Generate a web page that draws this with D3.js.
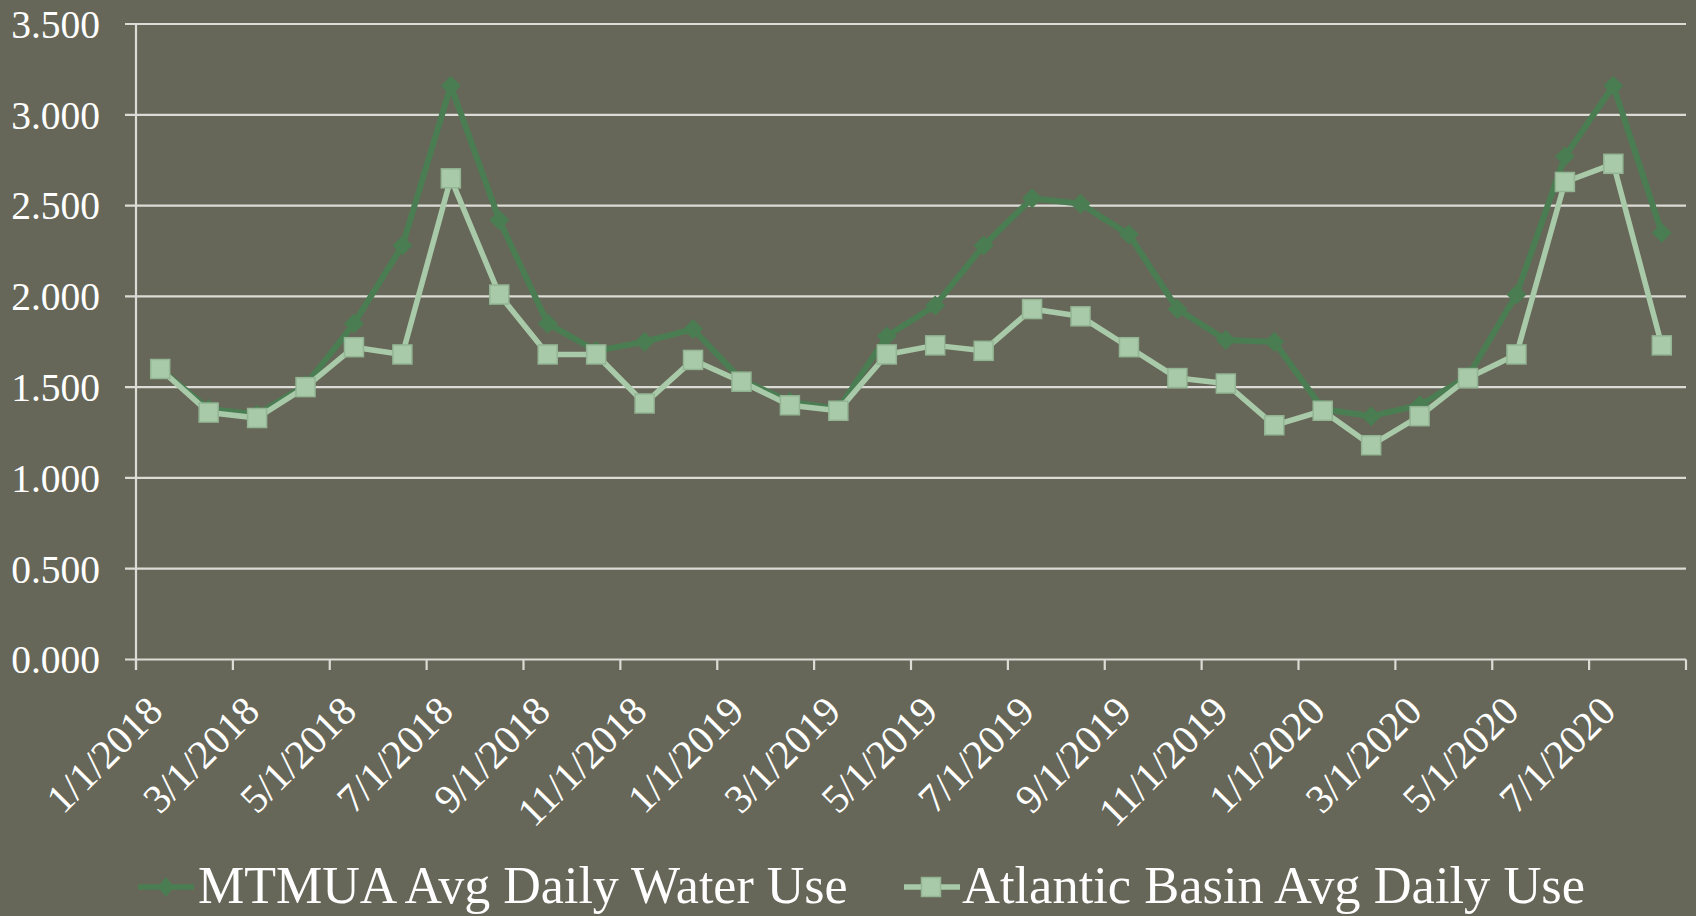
<!DOCTYPE html>
<html>
<head>
<meta charset="utf-8">
<script src="https://cdn.jsdelivr.net/npm/d3@7"></script>
<style>
  html, body { margin: 0; padding: 0; background: #666758; }
  svg { display: block; }
  text { font-family: "Liberation Serif", "Times New Roman", serif; fill: #ffffff; }
</style>
</head>
<body>
<svg id="chart" width="1696" height="916"></svg>
<script>
// ---- data ----
const months = [
  "1/1/2018","2/1/2018","3/1/2018","4/1/2018","5/1/2018","6/1/2018","7/1/2018","8/1/2018",
  "9/1/2018","10/1/2018","11/1/2018","12/1/2018","1/1/2019","2/1/2019","3/1/2019","4/1/2019",
  "5/1/2019","6/1/2019","7/1/2019","8/1/2019","9/1/2019","10/1/2019","11/1/2019","12/1/2019",
  "1/1/2020","2/1/2020","3/1/2020","4/1/2020","5/1/2020","6/1/2020","7/1/2020","8/1/2020"
];
const mtmua = [
  1.60, 1.38, 1.35, 1.51, 1.85, 2.28, 3.16, 2.42,
  1.85, 1.70, 1.75, 1.82, 1.54, 1.42, 1.38, 1.78,
  1.95, 2.28, 2.54, 2.51, 2.34, 1.93, 1.76, 1.75,
  1.38, 1.34, 1.40, 1.56, 2.01, 2.77, 3.16, 2.35
];
const atlantic = [
  1.60, 1.36, 1.33, 1.50, 1.72, 1.68, 2.65, 2.01,
  1.68, 1.68, 1.41, 1.65, 1.53, 1.40, 1.37, 1.68,
  1.73, 1.70, 1.93, 1.89, 1.72, 1.55, 1.52, 1.29,
  1.37, 1.18, 1.34, 1.55, 1.68, 2.63, 2.73, 1.73
];
const yTicks = [0, 0.5, 1.0, 1.5, 2.0, 2.5, 3.0, 3.5];
const seriesNames = ["MTMUA Avg Daily Water Use", "Atlantic Basin Avg Daily Use"];

// ---- layout ----
const svg = d3.select("#chart");
const mLeft = 136, mRight = 1686, mTop = 24, mBottom = 659.5;
const darkGreen = "#4b7d53", lightGreen = "#a9caa9", lightStroke = "#93b594";
const gridColor = "#dcdcd6";

const x = d3.scaleBand().domain(months).range([mLeft, mRight]).padding(0);
const y = d3.scaleLinear().domain([0, 3.5]).range([mBottom, mTop]);
const bw = x.bandwidth();
const cx = d => x(d) + bw / 2;

// gridlines + y tick labels
const grid = svg.append("g");
grid.selectAll("line").data(yTicks).join("line")
  .attr("x1", mLeft - 11).attr("x2", mRight)
  .attr("y1", d => y(d)).attr("y2", d => y(d))
  .attr("stroke", gridColor).attr("stroke-width", 2.2);
grid.selectAll("text").data(yTicks).join("text")
  .attr("x", 100).attr("y", d => y(d)).attr("dy", "0.35em")
  .attr("text-anchor", "end").attr("font-size", 39.5)
  .text(d => d3.format(".3f")(d));

// y axis line
svg.append("line").attr("x1", mLeft).attr("x2", mLeft).attr("y1", mTop).attr("y2", mBottom + 10.5)
  .attr("stroke", gridColor).attr("stroke-width", 2.2);

// x tick marks every 2 months + end
const tickIdx = d3.range(0, months.length + 1, 2);
svg.append("g").selectAll("line").data(tickIdx).join("line")
  .attr("x1", i => i < months.length ? x(months[i]) : mRight)
  .attr("x2", i => i < months.length ? x(months[i]) : mRight)
  .attr("y1", mBottom).attr("y2", mBottom + 10.5)
  .attr("stroke", gridColor).attr("stroke-width", 2.2);

// x labels
const labelMonths = months.filter((d, i) => i % 2 === 0);
svg.append("g").selectAll("text").data(labelMonths).join("text")
  .attr("transform", d => `translate(${cx(d) - 5.5},${mBottom + 44}) rotate(-45)`)
  .attr("text-anchor", "end").attr("dy", "0.35em").attr("font-size", 40.5)
  .text(d => d);

// lines
const line = d3.line().x((d, i) => cx(months[i])).y(d => y(d));
svg.append("path").datum(mtmua).attr("d", line).attr("fill", "none")
  .attr("stroke", darkGreen).attr("stroke-width", 6).attr("stroke-linejoin", "round");
svg.append("g").selectAll("path").data(mtmua).join("path")
  .attr("d", "M0,-10L10,0L0,10L-10,0Z")
  .attr("transform", (d, i) => `translate(${cx(months[i])},${y(d)})`)
  .attr("fill", darkGreen);

svg.append("path").datum(atlantic).attr("d", line).attr("fill", "none")
  .attr("stroke", lightGreen).attr("stroke-width", 5.5).attr("stroke-linejoin", "round");
svg.append("g").selectAll("rect").data(atlantic).join("rect")
  .attr("x", (d, i) => cx(months[i]) - 9.5).attr("y", d => y(d) - 9.5)
  .attr("width", 19).attr("height", 19)
  .attr("fill", lightGreen).attr("stroke", lightStroke).attr("stroke-width", 1.5);

// legend
const lg = svg.append("g");
lg.append("line").attr("x1", 138).attr("x2", 194).attr("y1", 887).attr("y2", 887)
  .attr("stroke", darkGreen).attr("stroke-width", 5.5);
lg.append("path").attr("d", "M0,-10L8.5,0L0,10L-8.5,0Z")
  .attr("transform", "translate(166,887)").attr("fill", darkGreen);
lg.append("text").attr("x", 198).attr("y", 903).attr("font-size", 52).text(seriesNames[0]);

lg.append("line").attr("x1", 904).attr("x2", 960).attr("y1", 887).attr("y2", 887)
  .attr("stroke", lightGreen).attr("stroke-width", 5.5);
lg.append("rect").attr("x", 931 - 9.5).attr("y", 887 - 9.5).attr("width", 19).attr("height", 19)
  .attr("fill", lightGreen).attr("stroke", lightStroke).attr("stroke-width", 1.5);
lg.append("text").attr("x", 962).attr("y", 903).attr("font-size", 52.5).text(seriesNames[1]);
</script>
</body>
</html>
